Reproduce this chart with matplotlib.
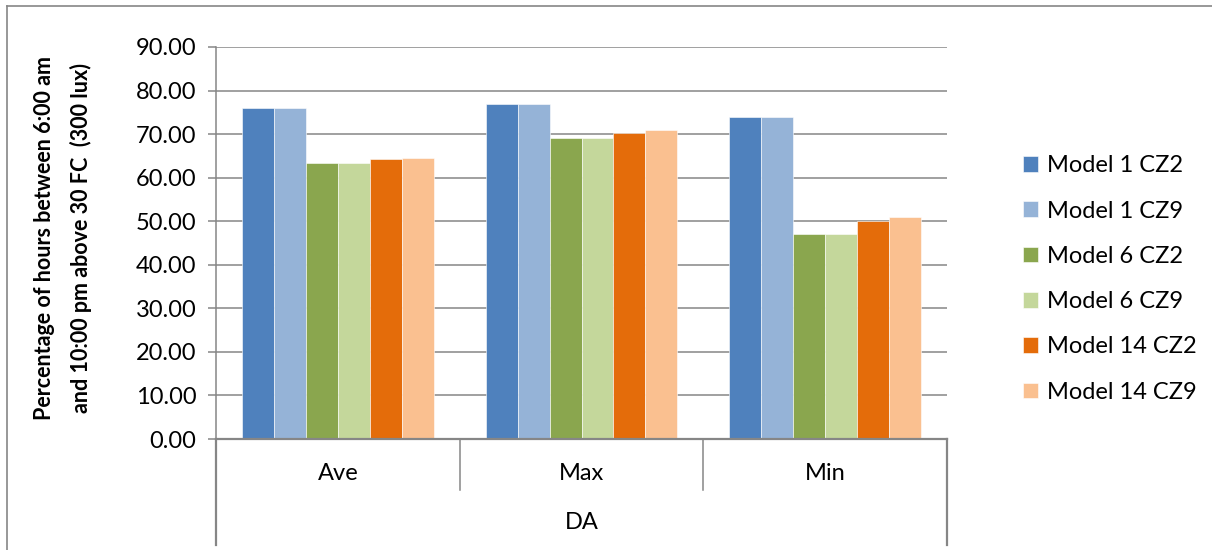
import matplotlib
matplotlib.use("Agg")
import matplotlib.pyplot as plt
import matplotlib.transforms as mtransforms
from matplotlib.lines import Line2D
import numpy as np

plt.rcParams['font.family'] = ['Lato', 'DejaVu Sans']

# Data
categories = ["Ave", "Max", "Min"]
group_label = "DA"
series_names = ["Model 1 CZ2", "Model 1 CZ9", "Model 6 CZ2",
                "Model 6 CZ9", "Model 14 CZ2", "Model 14 CZ9"]
model1_cz2 = [76.0, 77.0, 74.0]
model1_cz9 = [76.0, 77.0, 74.0]
model6_cz2 = [63.3, 69.0, 47.0]
model6_cz9 = [63.3, 69.0, 47.0]
model14_cz2 = [64.3, 70.2, 50.0]
model14_cz9 = [64.5, 71.0, 51.0]
series_values = [model1_cz2, model1_cz9, model6_cz2,
                 model6_cz9, model14_cz2, model14_cz9]
colors = ["#4F81BD", "#95B3D7", "#8AA64E", "#C4D79B", "#E46C0A", "#FAC090"]
y_ticks = np.arange(0, 91, 10)
y_label = "Percentage of hours between 6:00 am\nand 10:00 pm above 30 FC  (300 lux)"

W, H = 1212, 550
fig = plt.figure(figsize=(W / 100, H / 100), dpi=100)
ax = fig.add_axes([216 / W, 1 - 439 / H, (947 - 216) / W, (439 - 47) / H])

grid_c = "#868686"
x = np.arange(len(categories))
bw = 0.131
for i, (name, vals) in enumerate(zip(series_names, series_values)):
    ax.bar(x + (i - 2.5) * bw, vals, width=bw, color=colors[i],
           edgecolor="#FFFFFF", linewidth=0.4, label=name, zorder=3)

ax.set_xlim(-0.5, len(categories) - 0.5)
ax.set_ylim(0, 90)
ax.set_yticks(y_ticks)
ax.set_yticklabels([f"{v:.2f}" for v in y_ticks])
ax.yaxis.grid(True, color=grid_c, linewidth=1.1, zorder=0)
ax.set_axisbelow(True)

for s in ["top", "right"]:
    ax.spines[s].set_visible(False)
ax.spines["left"].set_color(grid_c)
ax.spines["left"].set_linewidth(1.1)
ax.spines["bottom"].set_color(grid_c)
ax.spines["bottom"].set_linewidth(1.6)
ax.spines["bottom"].set_zorder(4)

ax.tick_params(axis="y", direction="out", length=6, width=1.1, color=grid_c,
               labelsize=17, pad=8, labelcolor="black")
ax.set_xticks([])

# Multi-level category axis drawn below the plot area
trans = mtransforms.blended_transform_factory(ax.transData, ax.transAxes)
for xb in [0.5, 1.5]:
    ax.add_line(Line2D([xb, xb], [0, -0.13], transform=trans, color=grid_c,
                       linewidth=1.1, clip_on=False))
for xb in [-0.5, len(categories) - 0.5]:
    ax.add_line(Line2D([xb, xb], [0, -0.27], transform=trans, color=grid_c,
                       linewidth=1.6, clip_on=False))
for xi, cat in zip(x, categories):
    ax.text(xi, -0.089, cat, transform=trans, ha="center", va="center",
            fontsize=17, color="black")
ax.text((len(categories) - 1) / 2, -0.214, group_label, transform=trans,
        ha="center", va="center", fontsize=17, color="black")

# Axis title
fig.text(63 / W, 1 - 238 / H, y_label, rotation=90, ha="center", va="center",
         fontsize=15.5, fontweight="bold", linespacing=1.85, multialignment="center")

# Legend
fig.legend(loc="center left", bbox_to_anchor=(1023 / W, 1 - 279 / H),
           frameon=False, fontsize=17, handlelength=0.65, handleheight=0.65,
           handletextpad=0.35, labelspacing=1.03, borderpad=0, borderaxespad=0)

# Chart area border (top and left edges)
fig.add_artist(Line2D([7 / W, 1.0], [1 - 6 / H, 1 - 6 / H], transform=fig.transFigure,
                      color=grid_c, linewidth=1.2))
fig.add_artist(Line2D([7 / W, 7 / W], [0.0, 1 - 6 / H], transform=fig.transFigure,
                      color=grid_c, linewidth=1.2))

fig.savefig("out.png", dpi=100)
